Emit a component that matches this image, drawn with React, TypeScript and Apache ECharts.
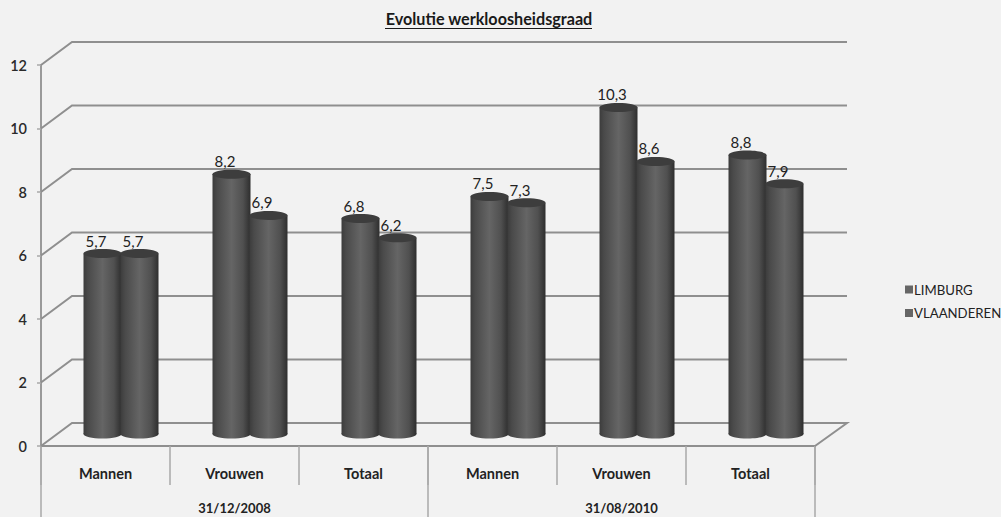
import React, { useEffect, useRef } from "react";
import * as echarts from "echarts";

const categories = ["Mannen", "Vrouwen", "Totaal", "Mannen", "Vrouwen", "Totaal"];
const dates = ["31/12/2008", "31/08/2010"];
const limburg = [5.7, 8.2, 6.8, 7.5, 10.3, 8.8];
const vlaanderen = [5.7, 6.9, 6.2, 7.3, 8.6, 7.9];
const yTicks = [0, 2, 4, 6, 8, 10, 12];

const FONT = "Lato, Carlito, 'Open Sans', sans-serif";
const DX = 31;
const DY = 23;
const LINE = "#8f8f8f";

const fmt = (v: number) => String(v).replace(".", ",");

function cylinder(side: number) {
  return (params: any, api: any) => {
    const i = api.value(0);
    const v = api.value(1);
    const top = api.coord([i, v]);
    const base = api.coord([i, 0]);
    const rx = 19;
    const ry = 4.5;
    const cx = top[0] + DX / 2 + side * 18.5;
    const yTop = top[1] - 11.5;
    const yBase = base[1] - 12;
    const fill = {
      type: "linear", x: 0, y: 0, x2: 1, y2: 0,
      colorStops: [
        { offset: 0, color: "#3c3c3c" },
        { offset: 0.12, color: "#4a4a4a" },
        { offset: 0.5, color: "#656565" },
        { offset: 0.8, color: "#505050" },
        { offset: 1, color: "#2e2e2e" },
      ],
    };
    return {
      type: "group",
      children: [
        { type: "ellipse", shape: { cx, cy: yBase, rx, ry }, style: { fill } },
        { type: "rect", shape: { x: cx - rx, y: yTop, width: rx * 2, height: yBase - yTop }, style: { fill } },
        { type: "ellipse", shape: { cx, cy: yTop, rx, ry }, style: { fill: "#3d3d3d" } },
        {
          type: "text",
          x: cx - 6.5,
          y: yTop - 13,
          style: { text: fmt(v), font: `15px ${FONT}`, fill: "#222", align: "center", verticalAlign: "middle" },
        },
      ],
    };
  };
}

function gridLine(params: any, api: any) {
  const v = api.value(0);
  const left = api.coord([0, v]);
  const rightX = api.coord([5, v])[0] + (api.coord([5, v])[0] - api.coord([4, v])[0]) / 2;
  const x0 = 41;
  const pts: number[][] = [
    [x0, left[1]],
    [x0 + DX, left[1] - DY],
    [rightX + DX + 1, left[1] - DY],
  ];
  if (v === 0) pts.push([rightX, left[1]]);
  return {
    type: "polyline",
    shape: { points: pts },
    style: { stroke: LINE, lineWidth: 2, fill: "none" },
  };
}

export default function App() {
  const ref = useRef<HTMLDivElement>(null);
  useEffect(() => {
    document.body.style.margin = "0";
    const chart = echarts.init(ref.current!, undefined, { renderer: "svg" });
    chart.setOption({
      animation: false,
      backgroundColor: "#f2f2f2",
      title: {
        text: "Evolutie werkloosheidsgraad",
        left: 484,
        top: 5,
        textAlign: "center",
        textStyle: { fontFamily: FONT, fontSize: 16.2, fontWeight: "bold", color: "#1a1a1a" },
      },
      graphic: [
        { type: "line", shape: { x1: 385, y1: 28.5, x2: 592, y2: 28.5 }, style: { stroke: "#1a1a1a", lineWidth: 1 } },
      ],
      legend: {
        orient: "vertical",
        left: 900,
        top: 278,
        itemWidth: 8,
        itemHeight: 8,
        itemGap: 10.5,
        data: [
          { name: "LIMBURG", icon: "rect", itemStyle: { color: "#666" } },
          { name: "VLAANDEREN", icon: "rect", itemStyle: { color: "#666" } },
        ],
        textStyle: { fontFamily: FONT, fontSize: 13.2, color: "#222", padding: [0, 0, 0, -4] },
      },
      grid: { left: 41, right: 186, top: 65, bottom: 71 },
      xAxis: [
        {
          type: "category",
          data: categories,
          position: "bottom",
          axisLine: { lineStyle: { color: LINE, width: 2 } },
          axisTick: { show: true, length: 39, alignWithLabel: false, interval: 0, lineStyle: { color: "#a8a8a8", width: 1.5 } },
          axisLabel: { interval: 0, margin: 20, fontFamily: FONT, fontSize: 14.5, fontWeight: "bold", color: "#222" },
        },
        {
          type: "category",
          data: dates,
          position: "bottom",
          axisLine: { show: false },
          axisTick: { show: true, length: 75, alignWithLabel: false, interval: 0, lineStyle: { color: "#a8a8a8", width: 1.5 } },
          axisLabel: { interval: 0, margin: 55, fontFamily: FONT, fontSize: 13, fontWeight: "bold", color: "#222" },
        },
      ],
      yAxis: {
        type: "value",
        min: 0,
        max: 12,
        interval: 2,
        splitLine: { show: false },
        axisLine: { show: true, lineStyle: { color: "#9a9a9a", width: 2 } },
        axisTick: { show: true, length: 4, lineStyle: { color: "#a8a8a8", width: 1.5 } },
        axisLabel: {
          margin: 14,
          fontFamily: FONT,
          fontSize: 14.5,
          fontWeight: 600,
          color: "#2a2a2a",
          formatter: (v: number) => String(v),
        },
      },
      series: [
        {
          type: "custom",
          name: "grid",
          silent: true,
          clip: false,
          data: yTicks.map((v) => [v]),
          encode: { y: 0 },
          renderItem: gridLine,
          z: 1,
        },
        {
          type: "custom",
          name: "LIMBURG",
          clip: false,
          data: limburg.map((v, i) => [i, v]),
          encode: { x: 0, y: 1 },
          renderItem: cylinder(-1),
          z: 2,
        },
        {
          type: "custom",
          name: "VLAANDEREN",
          clip: false,
          data: vlaanderen.map((v, i) => [i, v]),
          encode: { x: 0, y: 1 },
          renderItem: cylinder(1),
          z: 3,
        },
      ],
    });
    return () => chart.dispose();
  }, []);
  return <div ref={ref} style={{ width: 1001, height: 517 }} />;
}
